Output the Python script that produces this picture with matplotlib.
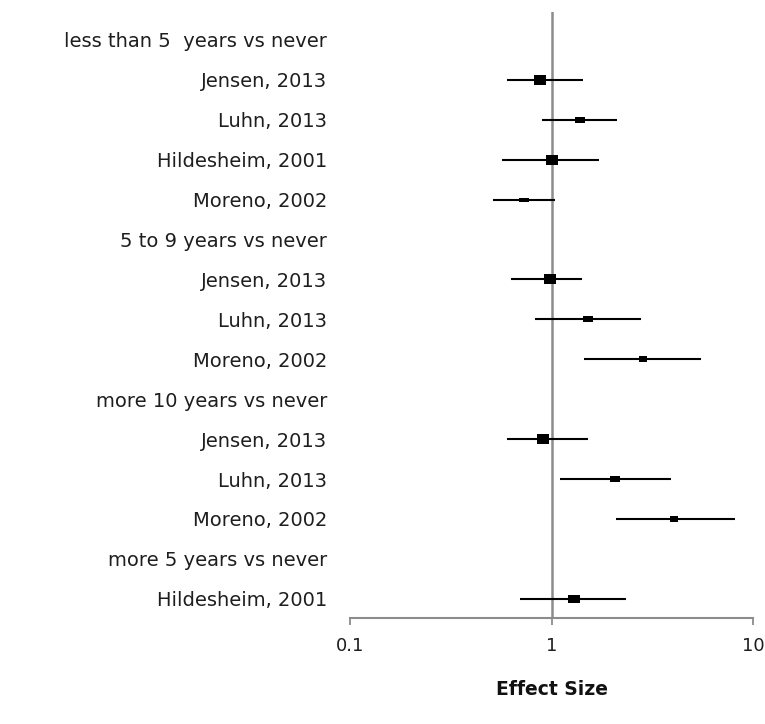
import matplotlib
matplotlib.use("Agg")
import matplotlib.pyplot as plt
import numpy as np

labels = ["less than 5  years vs never", "Jensen, 2013", "Luhn, 2013", "Hildesheim, 2001",
          "Moreno, 2002", "5 to 9 years vs never", "Jensen, 2013", "Luhn, 2013",
          "Moreno, 2002", "more 10 years vs never", "Jensen, 2013", "Luhn, 2013",
          "Moreno, 2002", "more 5 years vs never", "Hildesheim, 2001"]
# effect sizes (None = header rows)
est = [None, 0.88, 1.38, 1.00, 0.73, None, 0.98, 1.52, 2.84, None, 0.905, 2.07, 4.05, None, 1.29]
lo  = [None, 0.60, 0.90, 0.57, 0.51, None, 0.63, 0.83, 1.45, None, 0.60, 1.10, 2.08, None, 0.70]
hi  = [None, 1.44, 2.12, 1.72, 1.035, None, 1.41, 2.79, 5.53, None, 1.515, 3.90, 8.10, None, 2.33]
# marker box size (px) per row
box_w = [0, 10.7, 8.7, 11, 8, 0, 10.3, 9, 6.3, 0, 10.7, 9.3, 6.7, 0, 11]
box_h = [0, 8, 6, 8, 4, 0, 8, 6, 5.7, 0, 8, 4.7, 4.7, 0, 7.7]

fig = plt.figure(figsize=(7.65, 7.24), dpi=100)
ax = fig.add_axes([350/765, 1-618/724, (753-350)/765, (618-12)/724])
ax.set_xscale("log")
ax.set_xlim(0.1, 10)
rows = np.arange(len(labels))
ax.set_ylim(14.48, -0.70)

ax.axvline(1, color="#8c8c8c", lw=1.8, zorder=1)

for i in rows:
    if est[i] is None:
        continue
    ax.plot([lo[i], hi[i]], [i, i], color="black", lw=1.5, zorder=2, solid_capstyle="butt")
    w, h = box_w[i], box_h[i]
    m = max(w, h)
    verts = [(-w/m, -h/m), (w/m, -h/m), (w/m, h/m), (-w/m, h/m), (-w/m, -h/m)]
    ax.plot([est[i]], [i], marker=verts, markersize=m * 1.15 * 72/100, color="black",
            markeredgewidth=0, linestyle="none", zorder=3)

for s in ["left", "right", "top"]:
    ax.spines[s].set_visible(False)
ax.spines["bottom"].set_color("#8c8c8c")
ax.spines["bottom"].set_linewidth(1.5)

ax.set_xticks([0.1, 1, 10])
ax.set_xticklabels(["0.1", "1", "10"])
ax.xaxis.set_minor_locator(matplotlib.ticker.NullLocator())
ax.tick_params(axis="x", length=5, width=1.3, color="#8c8c8c", labelsize=13,
               labelcolor="#1e1e1e", pad=9)

ax.set_yticks(rows)
ax.set_yticklabels(labels)
ax.tick_params(axis="y", length=0, pad=16.5, labelsize=14, labelcolor="#1e1e1e")

ax.set_xlabel("Effect Size", fontsize=13.5, fontweight="bold", labelpad=18, color="#111111")

fig.savefig("out.png", dpi=100)
